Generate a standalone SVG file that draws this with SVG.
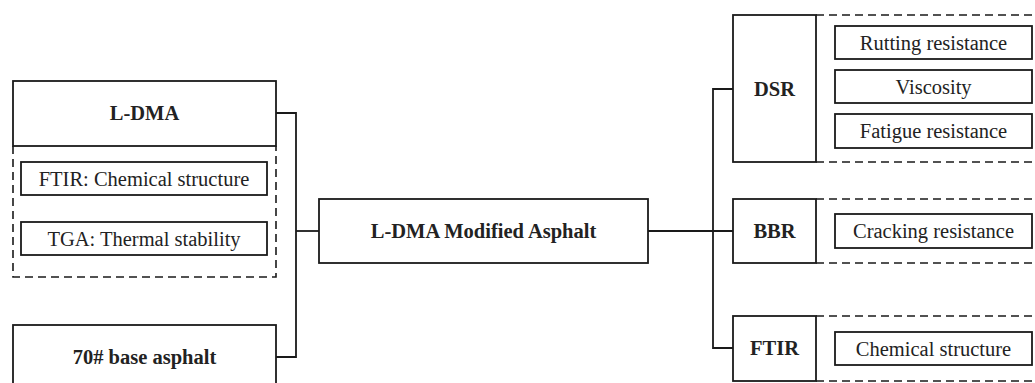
<svg xmlns="http://www.w3.org/2000/svg" width="1035" height="383" viewBox="0 0 1035 383">
<style>
.box{fill:#fff;stroke:#1a1a1a;stroke-width:1.8}
.dash{fill:none;stroke:#1a1a1a;stroke-width:1.6;stroke-dasharray:8 5}
.con{fill:none;stroke:#1a1a1a;stroke-width:1.8}
text{font-family:'Liberation Serif','Times New Roman',Times,'DejaVu Serif','Noto Serif',serif;font-size:20.5px;fill:#222;text-anchor:middle}
.b{font-weight:bold}
</style>
<rect width="1035" height="383" fill="#fff"/>
<g id="connectors">
<path class="con" d="M276,113 H296 V357 H276"/>
<path class="con" d="M296,231 H319"/>
<path class="con" d="M648,231 H733"/>
<path class="con" d="M733,89 H713 V348 H733"/>
</g>
<g id="ldma">
<rect class="box" x="13" y="81" width="263" height="65"/>
<text class="b" x="144.5" y="120">L-DMA</text>
</g>
<g id="ldma-tests">
<path class="dash" d="M13,146 V277 H276 V146"/>
<rect class="box" x="21" y="162" width="246" height="33"/>
<text x="144" y="185.5">FTIR: Chemical structure</text>
<rect class="box" x="21" y="222" width="246" height="33"/>
<text x="144" y="245.5">TGA: Thermal stability</text>
</g>
<g id="base">
<rect class="box" x="13" y="325" width="263" height="65"/>
<text class="b" x="144.5" y="364">70# base asphalt</text>
</g>
<g id="center">
<rect class="box" x="319" y="199" width="329" height="64"/>
<text class="b" x="483.5" y="238">L-DMA Modified Asphalt</text>
</g>
<g id="dsr">
<rect class="box" x="733" y="15" width="83" height="147"/>
<text class="b" x="774.5" y="96">DSR</text>
<path class="dash" d="M816,15 H1035 M816,162 H1035"/>
<rect class="box" x="835" y="26" width="197" height="33"/>
<text x="933.5" y="49.5">Rutting resistance</text>
<rect class="box" x="835" y="70" width="197" height="33"/>
<text x="933.5" y="93.5">Viscosity</text>
<rect class="box" x="835" y="114" width="197" height="34"/>
<text x="933.5" y="138">Fatigue resistance</text>
</g>
<g id="bbr">
<rect class="box" x="733" y="199" width="83" height="64"/>
<text class="b" x="774.5" y="238">BBR</text>
<path class="dash" d="M816,199 H1035 M816,263 H1035"/>
<rect class="box" x="835" y="214" width="197" height="34"/>
<text x="933.5" y="238">Cracking resistance</text>
</g>
<g id="ftir">
<rect class="box" x="733" y="316" width="83" height="65"/>
<text class="b" x="774.5" y="355">FTIR</text>
<path class="dash" d="M816,316 H1035 M816,381 H1035"/>
<rect class="box" x="835" y="332" width="197" height="33"/>
<text x="933.5" y="355.5">Chemical structure</text>
</g>
</svg>
